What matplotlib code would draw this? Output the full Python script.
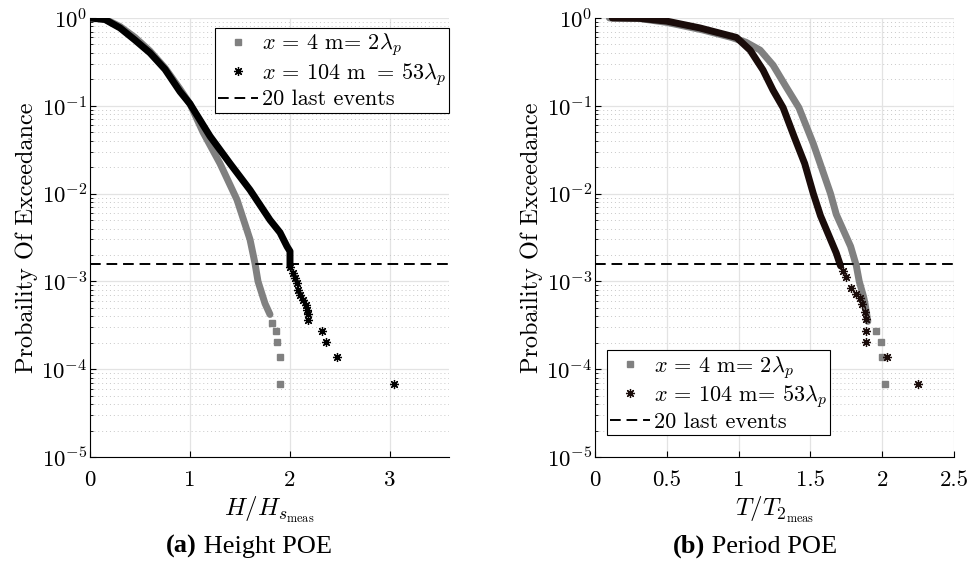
import numpy as np
import matplotlib.pyplot as plt
from matplotlib import font_manager
from matplotlib.ticker import LogLocator, NullFormatter, FixedLocator, FixedFormatter

plt.rcParams['font.family'] = 'cmr10'
plt.rcParams['mathtext.fontset'] = 'cm'
plt.rcParams['axes.formatter.use_mathtext'] = True

# (a) height POE, x = 4 m : dense part of the sample, then the last few events
h_x4_dense = [0, 0.15, 0.3, 0.45, 0.6, 0.75, 0.9, 1.0, 1.13, 1.3, 1.47, 1.6, 1.65, 1.68, 1.75, 1.80]
h_x4_dense_poe = [1.0, 0.97, 0.80, 0.60, 0.42, 0.27, 0.155, 0.105, 0.05, 0.022, 0.0085, 0.003,
                  0.0016, 0.001, 5.6e-4, 4.2e-4]
h_x4_tail = [1.82, 1.86, 1.87, 1.90, 1.90]
h_x4_tail_poe = [3.4e-4, 2.72e-4, 2.04e-4, 1.36e-4, 6.8e-5]

# (a) height POE, x = 104 m
h_x104_dense = [0, 0.15, 0.3, 0.45, 0.6, 0.75, 0.9, 1.0, 1.2, 1.4, 1.6, 1.8, 1.9, 1.97, 2.0, 2.0]
h_x104_dense_poe = [1.0, 0.96, 0.77, 0.56, 0.40, 0.26, 0.145, 0.105, 0.045, 0.022, 0.011, 0.005,
                    0.0036, 0.0025, 0.0022, 0.0015]
h_x104_tail = [2.00, 2.03, 2.05, 2.07, 2.08, 2.10, 2.13, 2.16, 2.17, 2.18, 2.18, 2.32, 2.36, 2.47, 3.04]
h_x104_tail_poe = [1.47e-3, 1.23e-3, 1.08e-3, 9.5e-4, 7.9e-4, 7.0e-4, 6.1e-4, 5.4e-4, 4.7e-4,
                   4.3e-4, 3.6e-4, 2.72e-4, 2.04e-4, 1.36e-4, 6.8e-5]

# (b) period POE, x = 4 m
t_x4_dense = [0.1, 0.3, 0.5, 0.75, 0.95, 1.05, 1.15, 1.24, 1.33, 1.42, 1.52, 1.64, 1.68, 1.78,
              1.82, 1.84, 1.87, 1.88, 1.90]
t_x4_dense_poe = [1.0, 0.99, 0.89, 0.73, 0.60, 0.53, 0.43, 0.29, 0.165, 0.095, 0.037, 0.01, 0.0058,
                  0.0025, 0.0015, 0.001, 6.7e-4, 5.6e-4, 3.5e-4]
t_x4_tail = [1.96, 1.995, 2.0, 2.02]
t_x4_tail_poe = [2.72e-4, 2.04e-4, 1.36e-4, 6.8e-5]

# (b) period POE, x = 104 m
t_x104_dense = [0.12, 0.31, 0.5, 0.73, 0.985, 1.08, 1.17, 1.24, 1.31, 1.39, 1.46, 1.52, 1.57, 1.64,
                1.68, 1.71]
t_x104_dense_poe = [1.0, 0.99, 0.92, 0.77, 0.60, 0.43, 0.255, 0.15, 0.095, 0.043, 0.022, 0.01,
                    0.0056, 0.003, 0.0021, 0.0015]
t_x104_tail = [1.73, 1.75, 1.78, 1.82, 1.845, 1.86, 1.88, 1.885, 1.89, 1.89, 2.035, 2.25]
t_x104_tail_poe = [1.3e-3, 1.13e-3, 8.3e-4, 7.2e-4, 6.5e-4, 5.5e-4, 4.5e-4, 3.7e-4, 2.72e-4,
                   2.04e-4, 1.36e-4, 6.8e-5]

last_events_poe = 1.58e-3

labels_a = [r'$x\, =\, 4$ m= $2\lambda_p$', r'$x\, =\, 104$ m $=\, 53\lambda_p$', '20 last events']
labels_b = [r'$x\, =\, 4$ m= $2\lambda_p$', r'$x\, =\, 104$ m= $53\lambda_p$', '20 last events']

ticks_a = [0, 1, 2, 3]
ticks_a_lbl = ['0', '1', '2', '3']
ticks_b = [0, 0.5, 1, 1.5, 2, 2.5]
ticks_b_lbl = ['0', '0.5', '1', '1.5', '2', '2.5']

GREY = '#808080'
ASTERISK = (8, 2, 0)


def draw_panel(ax, grey, black, black_col, labels, xlim, xticks, xticklabels, xlabel):
    gx, gp, gtx, gtp = grey
    bx, bp, btx, btp = black
    ax.plot(gx, gp, color=GREY, lw=5, solid_capstyle='round', zorder=3)
    ax.plot(gtx, gtp, 's', color=GREY, ms=4.5, ls='none', label=labels[0], zorder=3)
    ax.plot(bx, bp, color=black_col, lw=5, solid_capstyle='round', zorder=4)
    ax.plot(btx, btp, marker=ASTERISK, color=black_col, ms=6.5, mew=0.9, ls='none',
            label=labels[1], zorder=4)
    ax.axhline(last_events_poe, color='k', lw=1.4, ls=(0, (5.5, 3)), label=labels[2], zorder=5)

    ax.set_yscale('log')
    ax.set_ylim(1e-5, 1)
    ax.set_xlim(*xlim)
    ax.xaxis.set_major_locator(FixedLocator(xticks))
    ax.xaxis.set_major_formatter(FixedFormatter(xticklabels))
    ax.yaxis.set_major_locator(LogLocator(base=10, numticks=10))
    ax.yaxis.set_minor_locator(LogLocator(base=10, subs=np.arange(2, 10), numticks=10))
    ax.yaxis.set_minor_formatter(NullFormatter())

    ax.grid(True, which='major', color='#e3e3e3', lw=0.9)
    ax.grid(True, which='minor', axis='y', color='#c8c8c8', lw=0.7, ls=(0, (1, 3)))
    ax.set_axisbelow(True)

    for s in ['top', 'right']:
        ax.spines[s].set_visible(False)
    ax.tick_params(which='both', direction='in', labelsize=16.5)
    ax.tick_params(which='major', length=4)
    ax.tick_params(axis='x', pad=10)
    ax.tick_params(axis='y', pad=2)
    ax.tick_params(which='minor', length=2.5)

    ax.set_ylabel('Probaility Of Exceedance', fontsize=17.5, labelpad=2)
    ax.set_xlabel(xlabel, fontsize=18, labelpad=3)


fig = plt.figure(figsize=(9.71, 5.65), dpi=100)
ax1 = fig.add_axes([0.0927, 0.1912, 0.3697, 0.777])
ax2 = fig.add_axes([0.6128, 0.1912, 0.3697, 0.777])

draw_panel(ax1, (h_x4_dense, h_x4_dense_poe, h_x4_tail, h_x4_tail_poe),
           (h_x104_dense, h_x104_dense_poe, h_x104_tail, h_x104_tail_poe),
           'black', labels_a, (0, 3.59), ticks_a, ticks_a_lbl, r'$H/H_{s_{\mathrm{meas}}}$')
draw_panel(ax2, (t_x4_dense, t_x4_dense_poe, t_x4_tail, t_x4_tail_poe),
           (t_x104_dense, t_x104_dense_poe, t_x104_tail, t_x104_tail_poe),
           '#1a0c0a', labels_b, (0, 2.5), ticks_b, ticks_b_lbl, r'$T/T_{2_{\mathrm{meas}}}$')

leg_kw = dict(fontsize=16, fancybox=False, edgecolor='k', framealpha=1, borderaxespad=0,
              handlelength=1.8, handletextpad=0.15, borderpad=0.15, labelspacing=0.1)
l1 = ax1.legend(loc='upper right', bbox_to_anchor=(1.0, 0.977), **leg_kw)
l2 = ax2.legend(loc='lower left', bbox_to_anchor=(0.033, 0.05), **leg_kw)
for leg in (l1, l2):
    leg.get_frame().set_linewidth(0.8)

# sub-figure captions in the document's Times-like font
cap_font = font_manager.FontProperties(family='Liberation Serif', size=19)
cap_bold = font_manager.FontProperties(family='Liberation Serif', weight='bold', size=19)

cap_y = 12 / 565
fig.text(197 / 971, cap_y, '(a)', ha='right', va='baseline', fontproperties=cap_bold)
fig.text(197 / 971, cap_y, ' Height POE', ha='left', va='baseline', fontproperties=cap_font)
fig.text(705 / 971, cap_y, '(b)', ha='right', va='baseline', fontproperties=cap_bold)
fig.text(705 / 971, cap_y, ' Period POE', ha='left', va='baseline', fontproperties=cap_font)

fig.savefig('out.png', dpi=100)
